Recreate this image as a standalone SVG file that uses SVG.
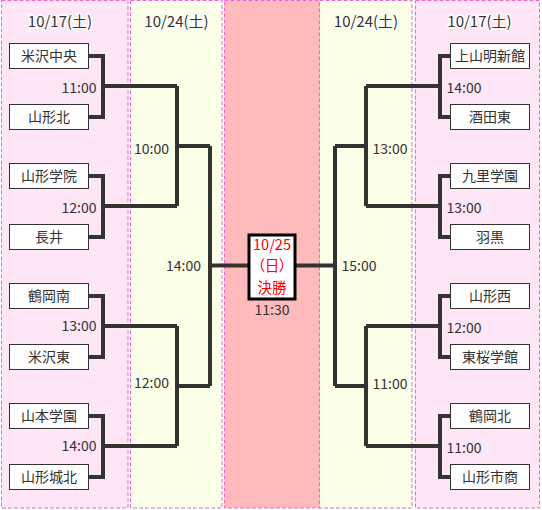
<svg xmlns="http://www.w3.org/2000/svg" width="542" height="510" viewBox="0 0 542 510">
<style>
.col{stroke:#ee66cc;stroke-width:1;stroke-dasharray:4 2}
.pink{fill:#ffe6f6}
.yel{fill:#fcffe8}
.ctr{fill:#ffbbbb}
.hdr{font-family:"Noto Sans CJK JP","Noto Sans",sans-serif;font-size:15px;fill:#333;text-anchor:middle;stroke:#fff;stroke-width:3;paint-order:stroke;stroke-linejoin:round}
.box{fill:#fff;stroke:#333;stroke-width:1}
.name{font-family:"Noto Sans CJK JP","Noto Sans",sans-serif;font-size:14px;fill:#333;text-anchor:middle}
.t{font-family:"Noto Sans CJK JP","Noto Sans",sans-serif;font-size:14px;fill:#333}
.tr{text-anchor:end}
.ln{fill:none;stroke:#333;stroke-width:4;stroke-linejoin:miter;stroke-linecap:butt}
.fin{font-family:"Noto Sans CJK JP","Noto Sans",sans-serif;font-size:14.5px;fill:#ff0000;text-anchor:middle;font-feature-settings:"palt"}
</style>
<rect width="542" height="510" fill="#fff"/>
<g id="columns">
<rect class="col pink" x="1.5" y="0.5" width="126.5" height="507.5"/>
<rect class="col yel" x="130.5" y="0.5" width="91.5" height="507.5"/>
<rect class="col ctr" x="224.5" y="0.5" width="95" height="507.5"/>
<rect class="col yel" x="319.5" y="0.5" width="92.5" height="507.5"/>
<rect class="col pink" x="415.5" y="0.5" width="124" height="507.5"/>
</g>
<g id="headers">
<text class="hdr" x="60" y="27">10/17(土)</text>
<text class="hdr" x="176.5" y="27">10/24(土)</text>
<text class="hdr" x="366" y="27">10/24(土)</text>
<text class="hdr" x="479.5" y="27">10/17(土)</text>
</g>
<g id="connectors">
<path class="ln" d="M88,56 H103 V117 H88 M103,86 H177 M88,176 H103 V237 H88 M103,206 H177 M88,296 H103 V357 H88 M103,326 H177 M88,416 H103 V477 H88 M103,446 H177"/>
<path class="ln" d="M177,86 V206 M177,146 H210 M177,326 V446 M177,386 H210 M210,146 V386 M210,265.5 H248"/>
<path class="ln" d="M450,56 H440 V117 H450 M440,86 H366 M450,176 H440 V237 H450 M440,206 H366 M450,296 H440 V357 H450 M440,326 H366 M450,416 H440 V477 H450 M440,446 H366"/>
<path class="ln" d="M366,86 V206 M366,146 H335 M366,326 V446 M366,386 H335 M335,146 V386 M335,265.5 H296"/>
</g>
<g id="labels">
<text class="t tr" x="96.5" y="92.5">11:00</text>
<text class="t tr" x="96.5" y="212.5">12:00</text>
<text class="t tr" x="96.5" y="331">13:00</text>
<text class="t tr" x="96.5" y="451">14:00</text>
<text class="t tr" x="169" y="154">10:00</text>
<text class="t tr" x="169" y="388">12:00</text>
<text class="t tr" x="201" y="270.5">14:00</text>
<text class="t" x="446.5" y="92.5">14:00</text>
<text class="t" x="446.5" y="212.5">13:00</text>
<text class="t" x="446.5" y="332.5">12:00</text>
<text class="t" x="446.5" y="452.5">11:00</text>
<text class="t" x="372.5" y="154">13:00</text>
<text class="t" x="372.5" y="389">11:00</text>
<text class="t" x="341.5" y="270.5">15:00</text>
</g>
<g id="n-yonezawachuo"><rect class="box" x="9.5" y="43.5" width="79" height="25"/><text class="name" x="49" y="61">米沢中央</text></g>
<g id="n-yamagatakita"><rect class="box" x="9.5" y="104.5" width="79" height="25"/><text class="name" x="49" y="122">山形北</text></g>
<g id="n-yamagatagakuin"><rect class="box" x="9.5" y="163.5" width="79" height="25"/><text class="name" x="49" y="181">山形学院</text></g>
<g id="n-nagai"><rect class="box" x="9.5" y="224.5" width="79" height="25"/><text class="name" x="49" y="242">長井</text></g>
<g id="n-tsuruokaminami"><rect class="box" x="9.5" y="283.5" width="79" height="25"/><text class="name" x="49" y="301">鶴岡南</text></g>
<g id="n-yonezawahigashi"><rect class="box" x="9.5" y="344.5" width="79" height="25"/><text class="name" x="49" y="362">米沢東</text></g>
<g id="n-yamamotogakuen"><rect class="box" x="9.5" y="403.5" width="79" height="25"/><text class="name" x="49" y="421">山本学園</text></g>
<g id="n-yamagatajohoku"><rect class="box" x="9.5" y="464.5" width="79" height="25"/><text class="name" x="49" y="482">山形城北</text></g>
<g id="n-kaminoyamameishinkan"><rect class="box" x="450.5" y="43.5" width="79" height="25"/><text class="name" x="490" y="61">上山明新館</text></g>
<g id="n-sakatahigashi"><rect class="box" x="450.5" y="104.5" width="79" height="25"/><text class="name" x="490" y="122">酒田東</text></g>
<g id="n-kunorigakuen"><rect class="box" x="450.5" y="163.5" width="79" height="25"/><text class="name" x="490" y="181">九里学園</text></g>
<g id="n-haguro"><rect class="box" x="450.5" y="224.5" width="79" height="25"/><text class="name" x="490" y="242">羽黒</text></g>
<g id="n-yamagatanishi"><rect class="box" x="450.5" y="283.5" width="79" height="25"/><text class="name" x="490" y="301">山形西</text></g>
<g id="n-higashinegakukan"><rect class="box" x="450.5" y="344.5" width="79" height="25"/><text class="name" x="490" y="362">東桜学館</text></g>
<g id="n-tsuruokakita"><rect class="box" x="450.5" y="403.5" width="79" height="25"/><text class="name" x="490" y="421">鶴岡北</text></g>
<g id="n-yamagatashisho"><rect class="box" x="450.5" y="464.5" width="79" height="25"/><text class="name" x="490" y="482">山形市商</text></g>
<g id="n-final">
<rect x="249" y="235" width="46" height="64" fill="#fff" stroke="#000" stroke-width="3"/>
<text class="fin" x="272" y="250">10/25</text>
<text class="fin" x="272" y="271">（日）</text>
<text class="fin" x="272" y="292.5">決勝</text>
<text class="t" x="272" y="314.5" text-anchor="middle">11:30</text>
</g>
</svg>
